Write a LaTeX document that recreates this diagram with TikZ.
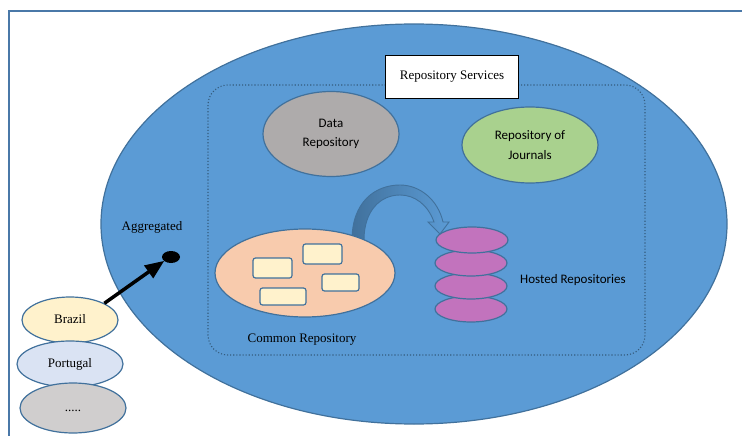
\documentclass[tikz,border=0pt]{standalone}
\usepackage{fontspec}
\setmainfont{Liberation Serif}
\newfontfamily\calibri{Carlito}
\usetikzlibrary{shapes.geometric, arrows}
\definecolor{svcblue}{HTML}{5B9BD5}
\definecolor{edgeblue}{HTML}{41719C}
\definecolor{frameblue}{HTML}{4A78A8}
\definecolor{datagray}{HTML}{AEABAB}
\definecolor{jourgreen}{HTML}{A9D18E}
\definecolor{commonpeach}{HTML}{F8CBAD}
\definecolor{docyellow}{HTML}{FFF2CC}
\definecolor{hostpink}{HTML}{C273BD}
\definecolor{brazilyellow}{HTML}{FFF2CC}
\definecolor{portblue}{HTML}{DAE3F3}
\definecolor{moregray}{HTML}{D0CECE}
\tikzstyle{title} = [text centered, font=\fontsize{13}{15}\selectfont]
\tikzstyle{calabel} = [text centered, font=\calibri\fontsize{13}{15}\selectfont]
\tikzstyle{service} = [ellipse, draw=edgeblue, line width=1.2pt, inner sep=0pt, align=center, font=\calibri\fontsize{13}{19.5}\selectfont]
\tikzstyle{doc} = [rectangle, rounded corners=2.5pt, draw=edgeblue, line width=1.2pt, fill=docyellow, inner sep=0pt]
\tikzstyle{disk} = [ellipse, draw=edgeblue, line width=1.2pt, fill=hostpink, minimum width=72pt, minimum height=26pt, inner sep=0pt]
\tikzstyle{country} = [ellipse, draw=edgeblue, line width=1.2pt, inner sep=0pt, minimum height=46pt, text height=9pt, text depth=2.5pt, font=\fontsize{13}{15}\selectfont]
\tikzstyle{arrow} = [line width=3.5pt, -triangle 45]

\begin{document}
\begin{tikzpicture}[x=1pt, y=-1pt, node distance=23pt]
	\useasboundingbox (0,0) rectangle (742,436);
	\draw [frameblue, line width=2pt] (9,440) -- (9,11) -- (746,11);
	\node (cloud) [ellipse, draw=edgeblue, line width=1.2pt, fill=svcblue, minimum width=626pt, minimum height=400pt] at (414,224) {};
	\draw [edgeblue!80!black, dotted, line width=1.1pt, rounded corners=20pt] (208,85) rectangle (645,355);
	\node (services) [title, draw=black, fill=white, line width=0.8pt, minimum width=133pt, minimum height=43pt] at (452,76.5) {Repository Services};
	\node (data) [service, fill=datagray, minimum width=136pt, minimum height=85pt] at (331,134) {Data\\Repository};
	\node (journals) [service, fill=jourgreen, minimum width=136pt, minimum height=76pt] at (530,145) {Repository of\\Journals};
	\draw [edgeblue, line width=0.9pt, left color=edgeblue, right color=svcblue] (352,240) .. controls (352,202) and (375,185) .. (400,185) .. controls (420,185) and (438,200) .. (443,222) -- (449,222) -- (440,234) -- (428,222) -- (434,222) .. controls (428,205) and (415,195) .. (400,195) .. controls (381,195) and (364,210) .. (364,240) -- cycle;
	\node (common) [ellipse, draw=edgeblue, line width=1.2pt, fill=commonpeach, minimum width=180pt, minimum height=88pt] at (305,273) {};
	\node (doc1) [doc, minimum width=39pt, minimum height=20pt] at (272.5,268) {};
	\node (doc2) [doc, minimum width=39pt, minimum height=20pt] at (322.5,254) {};
	\node (doc3) [doc, minimum width=37pt, minimum height=17pt] at (340.5,282.5) {};
	\node (doc4) [doc, minimum width=46pt, minimum height=17pt] at (283,296.5) {};
	\node (commonlabel) [title] at (302,340) {Common Repository};
	\node (disk4) [disk] at (471,309) {};
	\node (disk3) [disk, above of=disk4] {};
	\node (disk2) [disk, above of=disk3] {};
	\node (disk1) [disk, above of=disk2, xshift=1pt] {};
	\node (hostedlabel) [calabel] at (573,280) {Hosted Repositories};
	\node (brazil) [country, fill=brazilyellow, minimum width=96pt] at (70,320) {Brazil};
	\node (portugal) [country, fill=portblue, minimum width=106pt, node distance=44pt, below of=brazil] {Portugal};
	\node (more) [country, fill=moregray, minimum width=106pt, minimum height=50pt, node distance=44pt, below of=portugal, xshift=3pt] {.....};
	\node (hub) [ellipse, fill=black, minimum width=18pt, minimum height=12pt, inner sep=0pt] at (171,257) {};
	\node (aggregated) [title] at (152,227) {Aggregated};
	\draw [arrow] (brazil.north east) -- (hub.210);
\end{tikzpicture}
\end{document}
